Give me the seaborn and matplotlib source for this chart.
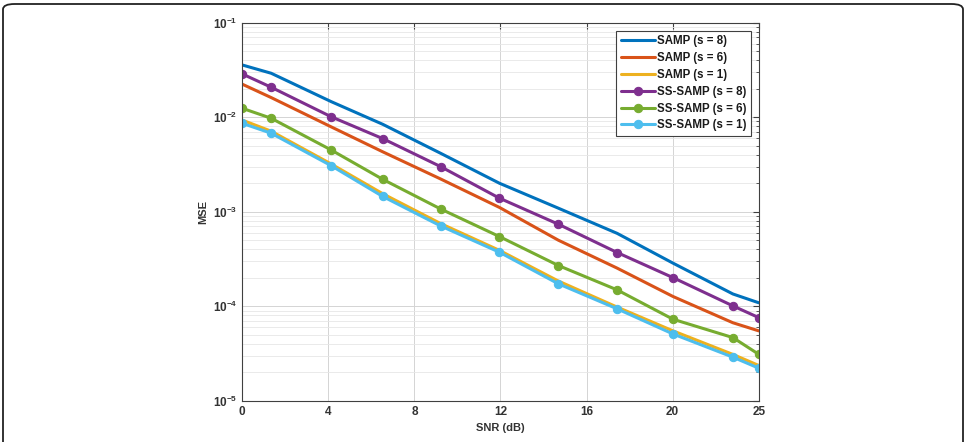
import numpy as np
import pandas as pd
import matplotlib
matplotlib.use("Agg")
import matplotlib.pyplot as plt
import seaborn as sns
from matplotlib.patches import FancyBboxPatch
from matplotlib.ticker import FixedLocator, FixedFormatter, LogLocator, NullFormatter

sns.set_style("white")
plt.rcParams["font.family"] = ["Liberation Sans", "DejaVu Sans"]
plt.rcParams["font.weight"] = "bold"
plt.rcParams["mathtext.fontset"] = "custom"
plt.rcParams["mathtext.bf"] = "Liberation Sans:bold"
plt.rcParams["mathtext.rm"] = "Liberation Sans:bold"

# x positions of the simulated points (axis ticks are evenly spaced labels)
snr = [0, 1.4, 4.3, 6.8, 9.6, 12.45, 15.3, 18.15, 20.85, 23.75, 25]
x_ticks = [0, 25 / 6, 50 / 6, 12.5, 100 / 6, 125 / 6, 25]
x_tick_labels = ["0", "4", "8", "12", "16", "20", "25"]

samp_s8 = [0.0356, 0.0291, 0.0146, 0.0084, 0.00415, 0.0020, 0.00109, 5.9e-4, 2.86e-4, 1.35e-4, 1.09e-4]
samp_s6 = [0.0223, 0.0161, 0.0079, 0.0043, 0.00222, 0.00111, 5.0e-4, 2.53e-4, 1.27e-4, 6.7e-5, 5.5e-5]
samp_s1 = [0.0093, 0.0071, 0.0032, 0.00155, 0.00075, 0.00039, 1.85e-4, 9.8e-5, 5.5e-5, 3.1e-5, 2.37e-5]
sssamp_s8 = [0.0286, 0.0207, 0.0101, 0.00593, 0.0030, 0.00139, 7.38e-4, 3.70e-4, 2.01e-4, 1.01e-4, 7.6e-5]
sssamp_s6 = [0.0124, 0.00973, 0.0045, 0.0022, 0.00107, 5.46e-4, 2.7e-4, 1.49e-4, 7.3e-5, 4.67e-5, 3.11e-5]
sssamp_s1 = [0.0086, 0.00676, 0.00307, 0.00145, 7.08e-4, 3.73e-4, 1.73e-4, 9.4e-5, 5.1e-5, 2.9e-5, 2.22e-5]

series = [
    ("SAMP (s = 8)", samp_s8, "#0072BD", None),
    ("SAMP (s = 6)", samp_s6, "#D95319", None),
    ("SAMP (s = 1)", samp_s1, "#EDB120", None),
    ("SS-SAMP (s = 8)", sssamp_s8, "#7E2F8E", "o"),
    ("SS-SAMP (s = 6)", sssamp_s6, "#77AC30", "o"),
    ("SS-SAMP (s = 1)", sssamp_s1, "#4DBEEE", "o"),
]

fig = plt.figure(figsize=(9.69, 4.42), dpi=100)
ax = fig.add_axes([0.25, 0.093, 0.533, 0.856])

for name, vals, col, mk in series:
    sns.lineplot(x=snr, y=vals, color=col, marker=mk, markersize=6,
                 markeredgecolor=col, linewidth=2.2, label=name, ax=ax)

ax.set_yscale("log")
ax.set_xlim(0, 25)
ax.set_ylim(1e-5, 1e-1)

ax.xaxis.set_major_locator(FixedLocator(x_ticks))
ax.xaxis.set_major_formatter(FixedFormatter(x_tick_labels))
ax.yaxis.set_major_locator(FixedLocator([1e-5, 1e-4, 1e-3, 1e-2, 1e-1]))
ax.yaxis.set_major_formatter(FixedFormatter([r"$\mathbf{10^{-5}}$", r"$\mathbf{10^{-4}}$",
                                             r"$\mathbf{10^{-3}}$", r"$\mathbf{10^{-2}}$",
                                             r"$\mathbf{10^{-1}}$"]))
ax.yaxis.set_minor_locator(LogLocator(base=10, subs=np.arange(2, 10), numticks=20))
ax.yaxis.set_minor_formatter(NullFormatter())

ax.grid(True, which="major", color="#d4d4d4", linewidth=0.7)
ax.grid(True, which="minor", axis="y", color="#e6e6e6", linewidth=0.6)
ax.set_axisbelow(True)

for sp in ax.spines.values():
    sp.set_visible(True)
    sp.set_color("#404040")
    sp.set_linewidth(0.8)

ax.tick_params(which="both", direction="in", top=True, right=True, colors="#404040",
               labelcolor="#333333", labelsize=8.5)
ax.tick_params(which="major", length=4)
ax.tick_params(which="minor", length=2.5)
for lab in ax.get_xticklabels():
    lab.set_fontweight("bold")

ax.set_xlabel("SNR (dB)", fontsize=8, fontweight="bold", color="#333333", labelpad=4)
ax.set_ylabel("MSE", fontsize=8, fontweight="bold", color="#333333", labelpad=3)

leg = ax.legend(loc="upper right", fontsize=8.3, handlelength=3.0, handletextpad=0.1,
                labelspacing=0.42, borderaxespad=0.7, fancybox=False, framealpha=1,
                edgecolor="#404040", borderpad=0.4)
leg.get_frame().set_linewidth(0.8)
for t in leg.get_texts():
    t.set_fontweight("bold")
    t.set_color("#1a1a1a")

# outer rounded frame (bottom edge cut off)
frame = FancyBboxPatch((3 / 969, -0.1), 960 / 969, 1.1 - 4 / 442,
                       boxstyle="round,pad=0,rounding_size=0.012",
                       transform=fig.transFigure, fill=False,
                       edgecolor="#222222", linewidth=1.3, clip_on=False)
fig.patches.append(frame)

fig.savefig("out.png", dpi=100)
